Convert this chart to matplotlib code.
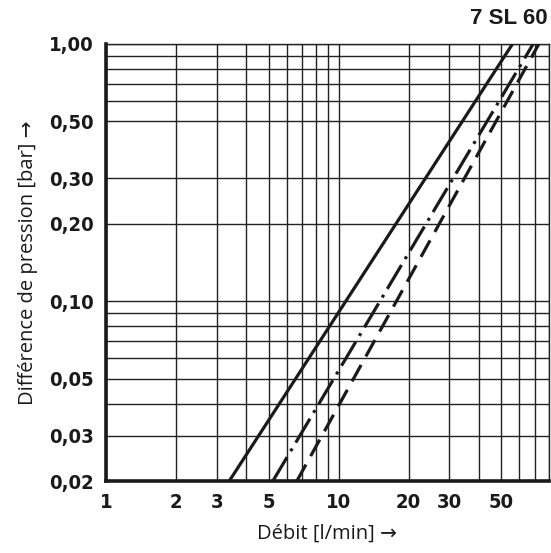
import matplotlib
matplotlib.use("Agg")
import matplotlib.pyplot as plt

# ---- data ----
dp_ends = [0.02, 1.0]                 # pressure difference [bar] at line ends
flow_solid = [3.39, 56.0]             # solid line, flow [l/min]
flow_dashdot = [5.22, 68.7]           # dash-dot line
flow_dashed = [6.62, 72.7]            # dashed line

x_grid = [1, 2, 3, 4, 5, 6, 7, 8, 9, 10, 20, 30, 40, 50, 60, 70, 80]
x_labeled = {1: "1", 2: "2", 3: "3", 5: "5", 10: "10", 20: "20", 30: "30", 50: "50"}
y_grid = [0.02, 0.03, 0.04, 0.05, 0.06, 0.07, 0.08, 0.09, 0.1, 0.2, 0.3,
          0.5, 0.6, 0.7, 0.8, 0.9, 1.0]
y_labeled = {0.02: "0,02", 0.03: "0,03", 0.05: "0,05", 0.1: "0,10",
             0.2: "0,20", 0.3: "0,30", 0.5: "0,50", 1.0: "1,00"}

title = "7 SL 60"
xlabel = "Débit [l/min] →"
ylabel = "Différence de pression [bar] →"

plt.rcParams['lines.scale_dashes'] = False

fig = plt.figure(figsize=(5.51, 5.53), dpi=100)
ax = fig.add_axes([106 / 551, 1 - 481 / 553, (548.5 - 106) / 551, (481 - 44) / 553])
ax.set_xscale('log')
ax.set_yscale('log')
ax.set_xlim(1, 80)
ax.set_ylim(0.02, 1.0)

grid_color = "#222222"
for xv in x_grid:
    ax.axvline(xv, color=grid_color, lw=1.0, zorder=1)
for yv in y_grid:
    ax.axhline(yv, color=grid_color, lw=1.0, zorder=1)

line_kw = dict(color="#1a1a1a", lw=2.3, solid_capstyle='butt', dash_capstyle='butt', zorder=3)
ax.plot(flow_solid, dp_ends, linestyle='-', **line_kw)
ax.plot(flow_dashdot, dp_ends, linestyle=(0, (20, 5, 2.2, 5)), **line_kw)
ax.plot(flow_dashed, dp_ends, linestyle=(0, (13.5, 7)), **line_kw)

tick_font = dict(family=['DejaVu Sans Condensed', 'DejaVu Sans'], stretch='condensed',
                 weight='bold', size=14.5)
ax.xaxis.set_minor_locator(matplotlib.ticker.NullLocator())
ax.yaxis.set_minor_locator(matplotlib.ticker.NullLocator())
ax.set_xticks(x_grid)
ax.set_xticklabels([x_labeled.get(v, "") for v in x_grid], **tick_font)
ax.set_yticks(y_grid)
ax.set_yticklabels([y_labeled.get(v, "") for v in y_grid], **tick_font)
ax.tick_params(length=0, pad=9, colors="#1a1a1a")

for s in ['top', 'right']:
    ax.spines[s].set_linewidth(1.0)
    ax.spines[s].set_color(grid_color)
for s in ['left', 'bottom']:
    ax.spines[s].set_linewidth(2.6)
    ax.spines[s].set_color("#1a1a1a")
    ax.spines[s].set_capstyle('projecting')

label_font = dict(family=['Open Sans', 'DejaVu Sans'], size=14.5, color="#1a1a1a")
ax.set_xlabel(xlabel, labelpad=8, **label_font)
ax.set_ylabel(ylabel, labelpad=8, **label_font)

fig.text(548 / 551, 1 - 18 / 553, title, ha='right', va='center',
         family=['Liberation Sans', 'DejaVu Sans'], weight='bold', size=16, color="#1a1a1a")

fig.savefig("out.png", dpi=100)
